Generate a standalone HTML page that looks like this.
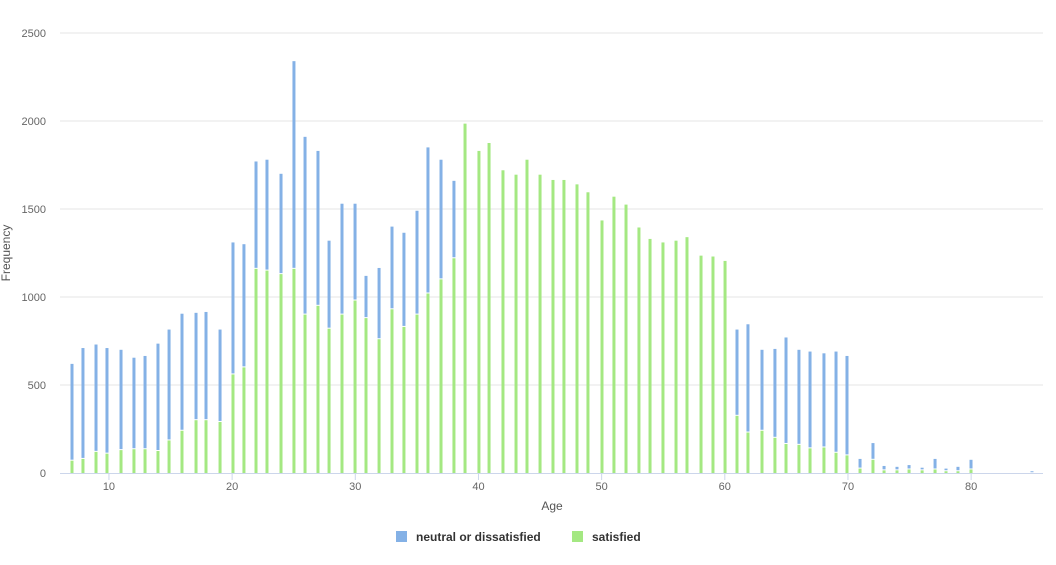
<!DOCTYPE html>
<html><head><meta charset="utf-8"><style>
body{margin:0;background:#fff;font-family:"Liberation Sans",sans-serif}
svg text{font-family:"Liberation Sans",sans-serif}
</style></head><body>
<svg id="chart" width="1056" height="560">
<g id="grid"></g><g id="bars"></g><g id="axes"></g>
<text x="552" y="510" text-anchor="middle" font-size="12" fill="#555">Age</text>
<text x="0" y="0" transform="translate(10,253) rotate(-90)" text-anchor="middle" font-size="12" fill="#555">Frequency</text>
<g><rect x="396" y="531" width="11" height="11" fill="#84b1e6"/><text x="416" y="541" font-size="12" font-weight="bold" fill="#333">neutral or dissatisfied</text></g>
<g><rect x="572" y="531" width="11" height="11" fill="#a4e882"/><text x="592" y="541" font-size="12" font-weight="bold" fill="#333">satisfied</text></g>
</svg>
<script>
const ages=[7.0,7.89,8.95,9.84,10.98,12.03,12.93,13.98,14.88,15.93,17.07,17.88,19.02,20.07,20.96,21.94,22.83,23.97,25.02,25.92,26.97,27.87,28.92,29.98,30.87,31.93,32.98,33.95,35.01,35.9,36.96,38.01,38.91,40.04,40.86,41.99,43.05,43.94,45.0,46.05,46.94,48.0,48.89,50.03,51.0,51.98,53.03,53.93,54.98,56.04,56.93,58.07,59.04,60.02,60.99,61.88,63.02,64.07,64.97,66.02,66.92,68.05,69.03,69.92,70.98,72.03,72.93,73.98,74.96,76.02,77.07,77.96,78.93,79.99,84.94];
const satisfied=[70,80,120,110,130,135,135,125,185,240,300,300,290,560,600,1160,1150,1130,1160,900,950,820,900,980,880,760,930,830,900,1020,1100,1220,1985,1830,1875,1720,1695,1780,1695,1665,1665,1640,1595,1435,1570,1525,1395,1330,1310,1320,1340,1235,1230,1205,325,230,240,200,165,160,140,145,115,100,25,75,15,15,20,15,20,10,10,20,0];
const neutral=[550,630,610,600,570,520,530,610,630,665,610,615,525,750,700,610,630,570,1180,1010,880,500,630,550,240,405,470,535,590,830,680,440,0,0,0,0,0,0,0,0,0,0,0,0,0,0,0,0,0,0,0,0,0,0,490,615,460,505,605,540,550,535,575,565,55,95,25,20,25,15,60,15,25,55,10];
const yTicks=[0,500,1000,1500,2000,2500];
const xTicks=[10,20,30,40,50,60,70,80];
const NS="http://www.w3.org/2000/svg";
const X=a=>72+(a-7)*12.317, Y=v=>473-v*440/2500;
function mk(t,at,p){const e=document.createElementNS(NS,t);for(const k in at)e.setAttribute(k,at[k]);p.appendChild(e);return e;}
const grid=document.getElementById('grid'),bars=document.getElementById('bars'),axes=document.getElementById('axes');
yTicks.forEach(v=>{
  if(v>0){const l=mk('line',{x1:60,x2:1043,y1:Y(v),y2:Y(v),stroke:'#e6e6e6'},grid);
  
  }
  const t=mk('text',{x:46,y:Y(v)+4,'text-anchor':'end','font-size':11,fill:'#666'},axes);t.textContent=v;
  
  
});
const ax=mk('line',{x1:60,x2:1043,y1:473.5,y2:473.5,stroke:'#ccd6eb'},axes);


xTicks.forEach(v=>{
  mk('line',{x1:X(v),x2:X(v),y1:474,y2:480,stroke:'#ccd6eb'},axes);
  const t=mk('text',{x:X(v),y:490,'text-anchor':'middle','font-size':11,fill:'#666'},axes);t.textContent=v;
  
  
});
ages.forEach((a,i)=>{
  const x=X(a)-1.5,s=satisfied[i],n=neutral[i];
  if(s>0){const r=mk('rect',{x:x,y:Y(s),width:3,height:Y(0)-Y(s),fill:'#a4e882'},bars);
  
  }
  if(n>0){const r=mk('rect',{x:x,y:Y(s+n),width:3,height:Math.max(Y(s)-Y(s+n)-1,1),fill:'#84b1e6'},bars);
  
  }
});
</script>
</body></html>
